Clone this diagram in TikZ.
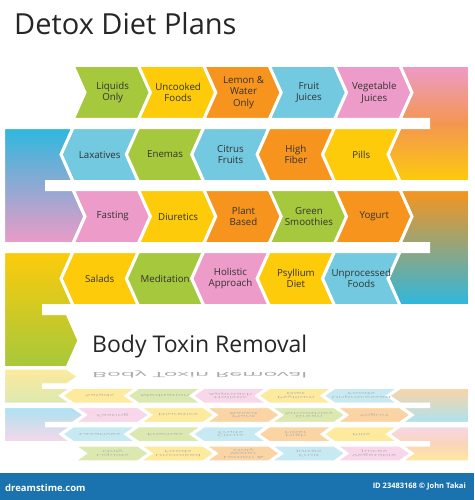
\documentclass[tikz,border=0pt]{standalone}
\usepackage{fontspec}
\setmainfont{Open Sans}
\definecolor{cgreen}{HTML}{A6C83C}
\definecolor{cyellow}{HTML}{FDCB0A}
\definecolor{corange}{HTML}{F7941D}
\definecolor{cblue}{HTML}{72C9E0}
\definecolor{cpink}{HTML}{ED9BC8}
\definecolor{ccyan}{HTML}{2DB8DE}
\definecolor{txt}{HTML}{333333}
\definecolor{barblue}{HTML}{1A73AF}
\tikzset{
  chev/.style={draw=white, line width=3pt, line join=miter},
  lbl/.style={align=center, text=txt, inner sep=0pt, font=\fontsize{9.7}{11.5}\selectfont},
}
% right-pointing chevron: #1 name, #2 cell, #3 row, #4 colour, #5 text
\newcommand\cR[5]{%
  \pgfmathsetmacro\xa{73+65.4*#2}%
  \pgfmathsetmacro\xb{\xa+65.4}%
  \pgfmathsetmacro\yt{65.5+62*#3}%
  \pgfmathsetmacro\yb{\yt+54}%
  \pgfmathsetmacro\ym{\yt+27}%
  \draw[chev, fill=#4] (\xa,\yt) -- (\xb,\yt) -- (\xb+12,\ym) -- (\xb,\yb) -- (\xa,\yb) -- (\xa+12,\ym) -- cycle;
  \node[lbl] (\pfx#1) at ({(\xa+\xb)/2+7},\ym) {#5};
}
% left-pointing chevron
\newcommand\cL[5]{%
  \pgfmathsetmacro\xa{73+65.4*#2}%
  \pgfmathsetmacro\xb{\xa+65.4}%
  \pgfmathsetmacro\yt{65.5+62*#3}%
  \pgfmathsetmacro\yb{\yt+54}%
  \pgfmathsetmacro\ym{\yt+27}%
  \draw[chev, fill=#4] (\xa,\yt) -- (\xb,\yt) -- (\xb-12,\ym) -- (\xb,\yb) -- (\xa,\yb) -- (\xa-12,\ym) -- cycle;
  \node[lbl] (\pfx#1) at ({(\xa+\xb)/2-6},\ym) {#5};
}
\newcommand\diagram{%
  % row 1
  \cR{lq}{0}{0}{cgreen}{Liquids\\Only}
  \cR{uf}{1}{0}{cyellow}{Uncooked\\Foods}
  \cR{lw}{2}{0}{corange}{Lemon \&\\Water\\Only}
  \cR{fj}{3}{0}{cblue}{Fruit\\Juices}
  \cR{vj}{4}{0}{cpink}{Vegetable\\Juices}
  \draw[chev, top color=cpink, bottom color=cyellow, middle color=corange!70!cpink]
    (400,65.5) -- (469.5,65.5) -- (469.5,181.5) -- (400,181.5) -- (388,154.5) -- (400,127.5)
    -- (428.5,127.5) -- (428.5,119.5) -- (400,119.5) -- (412,92.5) -- cycle;
  % row 2
  \cL{lx}{0}{1}{cblue}{Laxatives}
  \cL{en}{1}{1}{cgreen}{Enemas}
  \cL{cf}{2}{1}{cblue}{Citrus\\Fruits}
  \cL{hf}{3}{1}{corange}{High\\Fiber}
  \cL{pl}{4}{1}{cyellow}{Pills}
  \draw[chev, top color=ccyan, bottom color=cpink]
    (3.5,127.5) -- (73,127.5) -- (61,154.5) -- (73,181.5) -- (46.5,181.5) -- (46.5,189.5)
    -- (73,189.5) -- (85,216.5) -- (73,243.5) -- (3.5,243.5) -- cycle;
  % row 3
  \cR{fa}{0}{2}{cpink}{Fasting}
  \cR{di}{1}{2}{cyellow}{Diuretics}
  \cR{pb}{2}{2}{corange}{Plant\\Based}
  \cR{gs}{3}{2}{cgreen}{Green\\Smoothies}
  \cR{yo}{4}{2}{corange}{Yogurt}
  \draw[chev, top color=corange, bottom color=ccyan]
    (400,189.5) -- (469.5,189.5) -- (469.5,305.5) -- (400,305.5) -- (388,278.5) -- (400,251.5)
    -- (428.5,251.5) -- (428.5,243.5) -- (400,243.5) -- (412,216.5) -- cycle;
  % row 4
  \cL{sa}{0}{3}{cyellow}{Salads}
  \cL{me}{1}{3}{cgreen}{Meditation}
  \cL{ha}{2}{3}{cpink}{Holistic\\Approach}
  \cL{pd}{3}{3}{cyellow}{Psyllium\\Diet}
  \cL{uf2}{4}{3}{cblue}{Unprocessed\\Foods}
  \draw[chev, top color=cyellow, bottom color=cgreen]
    (3.5,251.5) -- (73,251.5) -- (61,278.5) -- (73,305.5) -- (43.5,305.5) -- (43.5,313.5)
    -- (67,313.5) -- (79,340.5) -- (67,367.5) -- (3.5,367.5) -- cycle;
  \node[anchor=base west, inner sep=0pt, text=black!85, font=\fontsize{23}{26}\selectfont]
    (\pfx btr) at (92,352) {Body Toxin Removal};
}
\begin{document}
\begin{tikzpicture}[x=1pt, y=-1pt]
  \useasboundingbox (0,0) rectangle (474,500);
  \node[anchor=base west, inner sep=0pt, text=black!85, font=\fontsize{29}{32}\selectfont]
    (title) at (14,35) {Detox Diet Plans};
  \def\pfx{}
  \diagram
  % reflection
  \begin{scope}[shift={(0,482.08)}, yscale=-0.31, transform shape]
    \def\pfx{r-}
    \diagram
  \end{scope}
  \fill[white, opacity=0.6] (0,368) rectangle (474,472);
  % footer bar
  \fill[barblue] (0,473) rectangle (474,500);
  \node[anchor=west, inner sep=0pt, text=white, font=\fontsize{9.5}{11}\selectfont\bfseries]
    (brand) at (5,488) {dreamstime.com};
  \node[anchor=east, inner sep=0pt, text=white, font=\fontsize{7.5}{9}\selectfont\bfseries]
    (credit) at (466,486) {ID 23483168 © John Takai};
\end{tikzpicture}
\end{document}
